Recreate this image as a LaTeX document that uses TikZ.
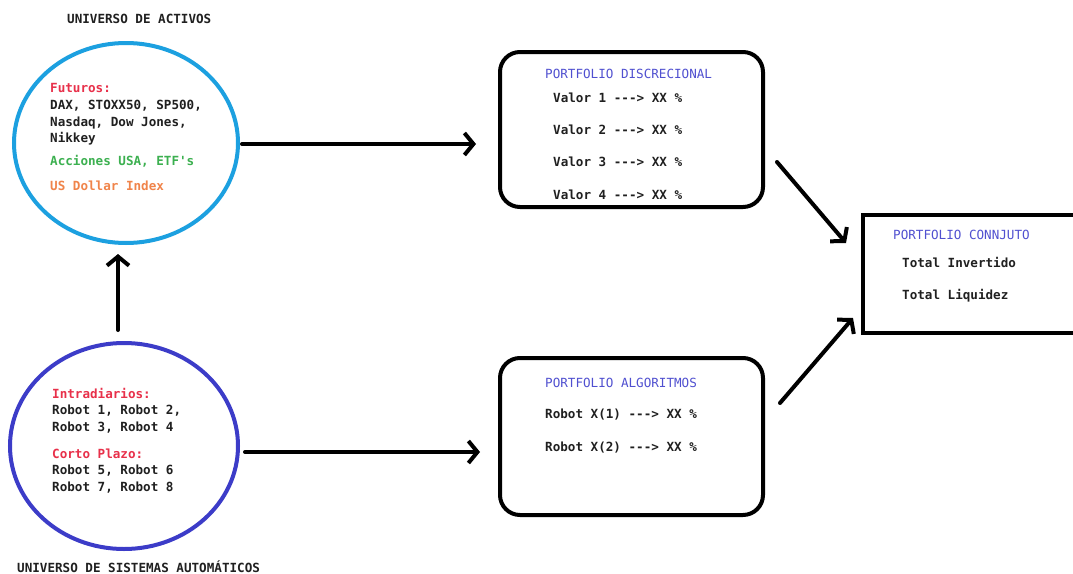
\documentclass[tikz,border=0pt]{standalone}
\usepackage{fontspec}
\setmonofont{DejaVu Sans Mono}
\usetikzlibrary{shapes.geometric,arrows.meta,calc}
\definecolor{cblue}{HTML}{1CA0E0}
\definecolor{dblue}{HTML}{3C3CC8}
\definecolor{tred}{HTML}{E8304A}
\definecolor{tgreen}{HTML}{3CB050}
\definecolor{torange}{HTML}{F0844A}
\definecolor{tpurple}{HTML}{5050D0}
\definecolor{tdark}{HTML}{202020}
\begin{document}
\begin{tikzpicture}[x=1pt,y=-1pt,
  txt/.style={anchor=base west,inner sep=0pt,font=\fontsize{12.6}{14}\ttfamily\bfseries,text=tdark},
  ttl/.style={txt,text=tpurple,font=\fontsize{12.6}{14}\ttfamily},
  ring/.style={draw,ellipse,line width=4pt,inner sep=0pt},
  pbox/.style={draw,line width=4pt,inner sep=0pt,rounded corners=20pt},
  arr/.style={line width=4pt,line cap=round,-{Straight Barb[length=9pt,width=22pt,line width=4pt]}}]
\useasboundingbox (0,0) rectangle (1073,573);
\fill[white] (0,0) rectangle (1073,573);
% circles
\node[ring,draw=cblue,minimum width=224pt,minimum height=200pt] (act) at (126,143) {};
\node[ring,draw=dblue,minimum width=228pt,minimum height=206pt] (sis) at (124,446) {};
% boxes
\node[pbox,minimum width=263pt,minimum height=155pt] (disc) at (631.5,129.5) {};
\node[pbox,minimum width=263pt,minimum height=157pt] (alg) at (631.5,436.5) {};
\node[draw,line width=4pt,inner sep=0pt,minimum width=220pt,minimum height=118pt] (conj) at (973,274) {};
% titles
\node[txt] (t1) at (67,23) {UNIVERSO DE ACTIVOS};
\node[txt] (t2) at (17,572) {UNIVERSO DE SISTEMAS AUTOMÁTICOS};
% activos text
\node[txt,text=tred] (f0) at (50,92) {Futuros:};
\node[txt] (f1) at (50,109) {DAX, STOXX50, SP500,};
\node[txt] (f2) at (50,126) {Nasdaq, Dow Jones,};
\node[txt] (f3) at (50,142) {Nikkey};
\node[txt,text=tgreen] (f4) at (50,165) {Acciones USA, ETF's};
\node[txt,text=torange] (f5) at (50,190) {US Dollar Index};
% sistemas text
\node[txt,text=tred] (s0) at (52,398) {Intradiarios:};
\node[txt] (s1) at (52,414) {Robot 1, Robot 2,};
\node[txt] (s2) at (52,431) {Robot 3, Robot 4};
\node[txt,text=tred] (s3) at (52,458) {Corto Plazo:};
\node[txt] (s4) at (52,474) {Robot 5, Robot 6};
\node[txt] (s5) at (52,491) {Robot 7, Robot 8};
% discrecional
\node[ttl] (d0) at (545,78) {PORTFOLIO DISCRECIONAL};
\node[txt] (d1) at (553,102) {Valor 1 ---> XX \%};
\node[txt] (d2) at (553,134) {Valor 2 ---> XX \%};
\node[txt] (d3) at (553,166) {Valor 3 ---> XX \%};
\node[txt] (d4) at (553,199) {Valor 4 ---> XX \%};
% algoritmos
\node[ttl] (a0) at (545,387) {PORTFOLIO ALGORITMOS};
\node[txt] (a1) at (545,418) {Robot X(1) ---> XX \%};
\node[txt] (a2) at (545,451) {Robot X(2) ---> XX \%};
% conjunto
\node[ttl] (c0) at (893,239) {PORTFOLIO CONNJUTO};
\node[txt] (c1) at (902,267) {Total Invertido};
\node[txt] (c2) at (902,299) {Total Liquidez};
% arrows
\draw[arr] ($(act.east)+(2,1)$) -- ($(disc.west)+(-22,14.5)$);
\draw[arr] ($(sis.east)+(5,6)$) -- ($(alg.west)+(-18,15.5)$);
\draw[arr] ($(sis.north)+(-6,-11)$) -- ($(act.south)+(-8,9)$);
\draw[arr] ($(disc.south east)+(12,-47)$) -- ($(conj.west)+(-15,-31)$);
\draw[arr] ($(alg.north east)+(15,47)$) -- ($(conj.west)+(-8,44)$);
\end{tikzpicture}
\end{document}
